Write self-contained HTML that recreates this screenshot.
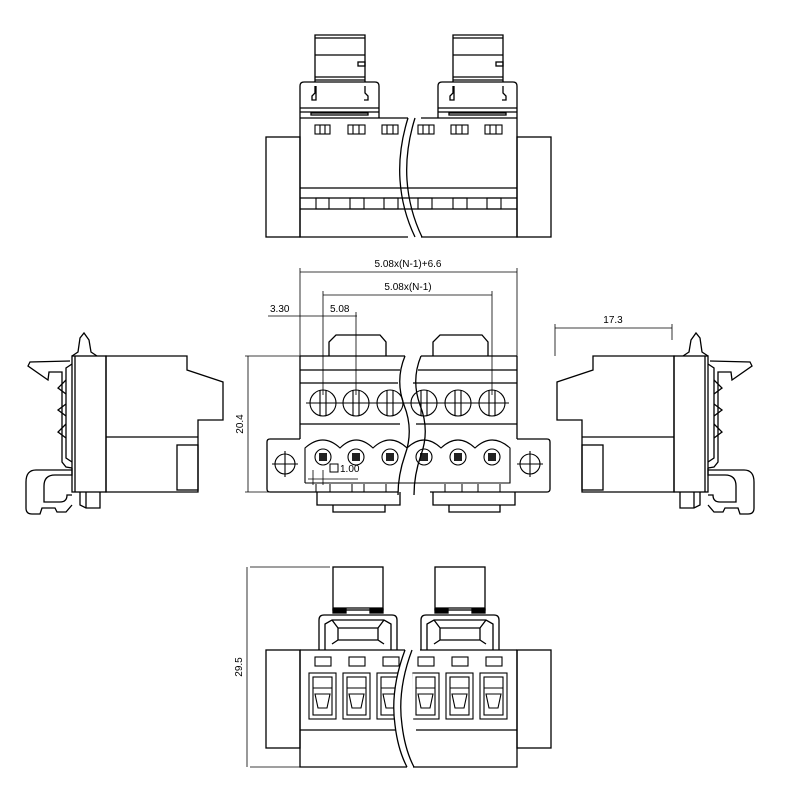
<!DOCTYPE html>
<html><head><meta charset="utf-8"><style>
html,body{margin:0;padding:0;background:#fff;}
svg{display:block}
text{font-family:"Liberation Sans",sans-serif;font-size:10px;fill:#000;stroke:none}
</style></head><body>
<svg width="800" height="800" viewBox="0 0 800 800" xmlns="http://www.w3.org/2000/svg">
<defs>
<g id="sideview" fill="none" stroke="#000" stroke-width="1.3">
  <path d="M106,356 H187 V370 L223,382 V420 H198 V492 H106 Z"/>
  <line x1="106" y1="437" x2="198" y2="437"/>
  <rect x="177" y="445" width="21" height="45"/>
  <rect x="72" y="356" width="34" height="136"/>
  <line x1="75" y1="356" x2="75" y2="492"/>
  <path d="M72,356 L78,352 L80,338 L84,333 L89,340 L91,352 L97,356"/>
  <path d="M70,361 L30,362 L28,366 L48,380 L49,372 L62,372 V462 L66,467 L72,468"/>
  <path d="M72,364 L66,368 V458 L72,462"/>
  <path d="M66,380 L58,388 L66,394 M66,404 L58,410 L66,416 M66,424 L58,432 L66,438"/>
  <path d="M72,468 V475 L55,475 Q44,475 44,486 V502 L60,502 Q67,502 67,495 L72,495"/>
  <path d="M72,470 L36,470 Q26,470 26,482 V508 Q26,514 32,514 H40 L42,508 L55,508 L57,512 H66 L72,505"/>
  <path d="M80,492 V505 L86,508 L100,508 V492"/>
  <line x1="86" y1="492" x2="86" y2="508"/>
</g>
</defs>
<g fill="none" stroke="#000" stroke-width="1.3">
<rect x="266" y="137" width="34" height="100"/>
<rect x="517" y="137" width="34" height="100"/>
<path d="M300,118 H408 M300,118 V237 H408 M517,118 H421 M517,118 V237 H421"/>
<line x1="300" y1="188" x2="517" y2="188"/>
<line x1="300" y1="198" x2="517" y2="198"/>
<line x1="300" y1="209" x2="517" y2="209"/>
<g stroke-width="1.1">
<rect x="315" y="125" width="15" height="9"/><rect x="348" y="125" width="17" height="9"/><rect x="382" y="125" width="16" height="9"/>
<rect x="418" y="125" width="16" height="9"/><rect x="451" y="125" width="17" height="9"/><rect x="485" y="125" width="17" height="9"/>
<path d="M320,125v9M325,125v9M353,125v9M359,125v9M387,125v9M393,125v9M423,125v9M429,125v9M456,125v9M462,125v9M490,125v9M496,125v9"/>
<rect x="316" y="198" width="13" height="11"/><rect x="350" y="198" width="14" height="11"/><rect x="384" y="198" width="14" height="11"/>
<rect x="418" y="198" width="14" height="11"/><rect x="453" y="198" width="14" height="11"/><rect x="487" y="198" width="14" height="11"/>
</g>
<g id="lt">
<path d="M300,118 V86 Q300,82 304,82 H375 Q379,82 379,86 V118"/>
<line x1="300" y1="108" x2="379" y2="108"/><line x1="300" y1="112" x2="379" y2="112"/>
<rect x="311" y="113" width="57" height="2"/>
<path d="M315,82 V35 H365 V82"/>
<line x1="315" y1="38" x2="365" y2="38"/><line x1="315" y1="55" x2="365" y2="55"/>
<line x1="315" y1="77" x2="365" y2="77"/><line x1="315" y1="80" x2="365" y2="80"/>
<path d="M315,86 V93 L312,96 V100 H316 V86 M365,86 V93 L368,96 V100 H364"/>
<rect x="358" y="62" width="7" height="4"/>
</g>
<use href="#lt" transform="translate(138,0)"/>
<path d="M408,118 Q398,150 400,180 Q402,210 415,237 M415,118 Q405,150 407,180 Q409,210 422,237"/>

<path d="M329,356 V342 L336,335 H380 L386,342 V356 M433,356 V342 L440,335 H482 L488,342 V356"/>
<path d="M300,356 H405 M421,356 H517 M300,356 V439 M517,356 V439"/>
<path d="M300,370 H400 M418,370 H517 M300,383 H398 M413,383 H517 M300,424 H400 M416,424 H517"/>
<path d="M300,439 H270 Q267,439 267,442 V489 Q267,492 270,492 H398 M430,492 H547 Q550,492 550,489 V442 Q550,439 547,439 H517"/>
<g stroke-width="1.1">
<circle cx="323" cy="403" r="13"/><circle cx="356" cy="403" r="13"/><circle cx="390" cy="403" r="13"/>
<circle cx="424" cy="403" r="13"/><circle cx="458" cy="403" r="13"/><circle cx="492" cy="403" r="13"/>
<path d="M320,390v26M326,390v26M353,390v26M359,390v26M387,390v26M393,390v26M421,390v26M427,390v26M455,390v26M461,390v26M489,390v26M495,390v26"/>
<path d="M306,403h34M339,403h34M373,403h34M407,403h34M441,403h34M475,403h34"/>
<circle cx="285" cy="464" r="10"/><circle cx="530" cy="464" r="10"/>
<path d="M272,464h26M285,451v26M517,464h26M530,451v26"/>
<path d="M305,483 V448 Q323,432 340,448 Q356,432 373,448 Q390,432 407,448 Q424,432 441,448 Q458,432 475,448 Q492,432 510,448 V483 H305"/>
<circle cx="323" cy="457" r="8"/><circle cx="356" cy="457" r="8"/><circle cx="390" cy="457" r="8"/>
<circle cx="424" cy="457" r="8"/><circle cx="458" cy="457" r="8"/><circle cx="492" cy="457" r="8"/>
</g>
<g fill="#222" stroke="none">
<rect x="319" y="453" width="8" height="8"/><rect x="352" y="453" width="8" height="8"/><rect x="386" y="453" width="8" height="8"/>
<rect x="420" y="453" width="8" height="8"/><rect x="454" y="453" width="8" height="8"/><rect x="488" y="453" width="8" height="8"/>
</g>
<path d="M317,492 V505 H400 V492 M333,505 V512 H385 V505 M433,492 V505 H515 V492 M449,505 V512 H500 V505"/>
<path d="M316,484 V492 M330,484 V492 M352,484 V492 M364,484 V492 M386,484 V492 M445,484 V492 M462,484 V492 M478,484 V492 M500,484 V492" stroke-width="1"/>
<path d="M405,356 Q395,380 404,405 Q414,430 405,455 Q398,475 398,495 M421,356 Q411,380 420,405 Q430,430 421,455 Q414,475 414,495"/>
<rect x="330" y="464" width="8" height="8" stroke-width="1"/>

<g stroke-width="0.8">
<path d="M300,356 V268 M517,356 V268 M300,272 H517 M323,395 V291 M492,395 V291 M323,295 H492 M356,395 V312 M268,316 H357"/>
<path d="M245,356 H300 M245,492 H300 M248,356 V492"/>
<path d="M250,567 H330 M250,767 H300 M247,567 V767"/>
<path d="M555,356 V324 M672,340 V324 M555,328 H672"/>
<path d="M308,479 H358 M313,470 V485 M323,470 V485"/>
</g>
</g>
<text x="408" y="267" text-anchor="middle">5.08x(N-1)+6.6</text>
<text x="408" y="290" text-anchor="middle">5.08x(N-1)</text>
<text x="270" y="312">3.30</text>
<text x="330" y="312">5.08</text>
<text x="613" y="323" text-anchor="middle">17.3</text>
<text x="340" y="472" font-size="9">1.00</text>
<text transform="translate(243,424) rotate(-90)" text-anchor="middle">20.4</text>
<text transform="translate(242,667) rotate(-90)" text-anchor="middle">29.5</text>

<use href="#sideview"/>
<use href="#sideview" transform="translate(780,0) scale(-1,1)"/>

<g fill="none" stroke="#000" stroke-width="1.3">
<rect x="266" y="650" width="34" height="98"/>
<rect x="517" y="650" width="34" height="98"/>
<path d="M300,650 H405 M420,650 H517 M300,650 V767 H407 M517,650 V767 H413"/>
<path d="M300,730 H405 M416,730 H517"/>
<g id="bl">
<rect x="333" y="567" width="50" height="43"/>
<line x1="333" y1="608" x2="383" y2="608"/>
<rect x="333" y="609" width="13" height="4" fill="#000"/><rect x="370" y="609" width="13" height="4" fill="#000"/>
<path d="M319,650 V620 Q319,615 324,615 H392 Q397,615 397,620 V650 M325,650 V624 L332,620 H384 L391,624 V650"/>
<path d="M332,620 L338,628 H378 L384,620 M338,628 V640 H378 V628 M332,644 L338,640 M384,644 L378,640"/>
</g>
<use href="#bl" transform="translate(102,0)"/>
<g id="term" stroke-width="1.1">
<rect x="315" y="657" width="16" height="9"/>
<rect x="309" y="673" width="27" height="46"/>
<rect x="313" y="677" width="19" height="38"/>
<path d="M313,688 H332 M315,694 H330 L327,708 H318 Z"/>
</g>
<use href="#term" transform="translate(34,0)"/><use href="#term" transform="translate(68,0)"/>
<use href="#term" transform="translate(103,0)"/><use href="#term" transform="translate(137,0)"/><use href="#term" transform="translate(171,0)"/>
<path d="M405,650 Q390,690 395,725 Q398,750 407,767 M412,650 Q397,690 402,725 Q405,750 414,767" fill="#fff"/>
</g>
</svg>
</body></html>
